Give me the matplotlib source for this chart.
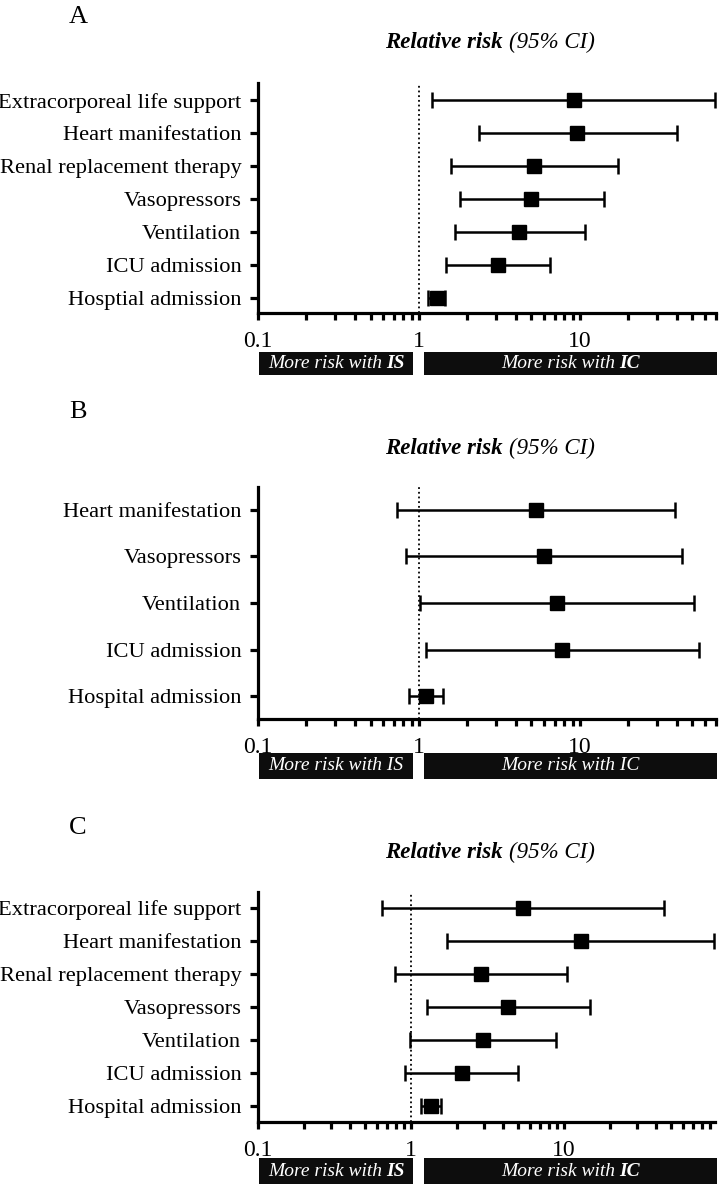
import numpy as np
import matplotlib
matplotlib.use('Agg')
import matplotlib.pyplot as plt
from matplotlib.patches import Rectangle
from matplotlib.ticker import FixedLocator, LogLocator, NullFormatter, FixedFormatter

W, H = 719, 1184
SERIF = ['Liberation Serif', 'DejaVu Serif']

# Panel A
labels_a = ['Extracorporeal life support', 'Heart manifestation', 'Renal replacement therapy',
            'Vasopressors', 'Ventilation', 'ICU admission', 'Hosptial admission']
rr_a = [9.2, 9.6, 5.2, 5.0, 4.2, 3.1, 1.29]
lo_a = [1.21, 2.35, 1.59, 1.80, 1.68, 1.48, 1.13]
hi_a = [69, 39.9, 17.2, 14.1, 10.7, 6.5, 1.46]

# Panel B
labels_b = ['Heart manifestation', 'Vasopressors', 'Ventilation', 'ICU admission', 'Hospital admission']
rr_b = [5.36, 5.96, 7.16, 7.79, 1.10]
lo_b = [0.735, 0.826, 1.01, 1.10, 0.866]
hi_b = [39.1, 43.2, 50.9, 54.7, 1.42]

# Panel C
labels_c = ['Extracorporeal life support', 'Heart manifestation', 'Renal replacement therapy',
            'Vasopressors', 'Ventilation', 'ICU admission', 'Hospital admission']
rr_c = [5.39, 12.9, 2.86, 4.29, 2.96, 2.15, 1.35]
lo_c = [0.647, 1.73, 0.791, 1.27, 0.98, 0.914, 1.16]
hi_c = [45.2, 96, 10.5, 14.8, 8.92, 5.03, 1.58]

x_ticks = [0.1, 1, 10]
x_ticklabels = ['0.1', '1', '10']

plt.rcParams['font.family'] = SERIF

fig = plt.figure(figsize=(W / 100, H / 100), dpi=100)
renderer = fig.canvas.get_renderer()


def fx(px):
    return px / W


def fy(py):
    return 1 - py / H


def forest(box, labels, rr, lo, hi, xmax, ylim):
    l, r, t, b = box
    ax = fig.add_axes([fx(l), fy(b), fx(r - l), (b - t) / H])
    n = len(labels)
    y = np.arange(n)[::-1]
    rr = np.array(rr)
    err = [rr - np.array(lo), np.array(hi) - rr]
    ax.errorbar(rr, y, xerr=err, fmt='s', ms=10, color='black', ecolor='black',
                elinewidth=1.8, capsize=6, capthick=1.8, clip_on=False, zorder=3)
    ax.axvline(1, color='black', lw=1.3, ls=(0, (1, 1.6)), zorder=1)
    ax.set_xscale('log')
    ax.set_xlim(0.1, xmax)
    ax.set_ylim(*ylim)
    ax.xaxis.set_major_locator(FixedLocator(x_ticks))
    ax.xaxis.set_major_formatter(FixedFormatter(x_ticklabels))
    ax.xaxis.set_minor_locator(LogLocator(base=10, subs=np.arange(2, 10)))
    ax.xaxis.set_minor_formatter(NullFormatter())
    ax.set_yticks(y)
    ax.set_yticklabels(labels)
    for s in ['top', 'right']:
        ax.spines[s].set_visible(False)
    for s in ['left', 'bottom']:
        ax.spines[s].set_linewidth(2.3)
    ax.tick_params(axis='y', which='major', length=6, width=2.3, pad=6, labelsize=16.2)
    ax.tick_params(axis='x', which='both', length=5, width=2.3, pad=8, labelsize=17)
    return ax


def pair_text(x0, y0, a, b, gap, size, color, style_a, style_b, center=None):
    t1 = fig.text(0, 0, a, fontsize=size, color=color, va='center', ha='left', **style_a)
    t2 = fig.text(0, 0, b, fontsize=size, color=color, va='center', ha='left', **style_b)
    w1 = t1.get_window_extent(renderer).width
    w2 = t2.get_window_extent(renderer).width
    if center is not None:
        x0 = center - (w1 + gap + w2) / 2
    t1.set_position((fx(x0), fy(y0)))
    t2.set_position((fx(x0 + w1 + gap), fy(y0)))


def title(y0):
    pair_text(0, y0, 'Relative risk', '(95% CI)', 6, 16.5,
              'black', dict(fontweight='bold', fontstyle='italic'), dict(fontstyle='italic'),
              center=490)


def boxes(top, bottom, bold):
    for x0, x1, grp in [(259, 413, 'IS'), (424, 717, 'IC')]:
        fig.patches.append(Rectangle((fx(x0), fy(bottom)), fx(x1 - x0), (bottom - top) / H,
                                     transform=fig.transFigure, facecolor='#0d0d0d',
                                     edgecolor='none'))
        cy = (top + bottom) / 2
        if bold:
            pair_text(0, cy, 'More risk with', grp, 4, 14, 'white',
                      dict(fontstyle='italic'), dict(fontstyle='italic', fontweight='bold'),
                      center=(x0 + x1) / 2)
        else:
            fig.text(fx((x0 + x1) / 2), fy(cy), 'More risk with ' + grp, fontsize=14,
                     color='white', fontstyle='italic', ha='center', va='center')


# A
fig.text(fx(78), fy(17), 'A', fontsize=19, ha='center', va='center')
title(42)
forest((258, 716, 83, 313), labels_a, rr_a, lo_a, hi_a, 70, (-0.45, 6.52))
boxes(352, 375, True)

# B
fig.text(fx(78), fy(412), 'B', fontsize=19, ha='center', va='center')
title(448)
forest((258, 716, 487, 719), labels_b, rr_b, lo_b, hi_b, 70, (-0.49, 4.49))
boxes(753, 779, False)

# C
fig.text(fx(78), fy(828), 'C', fontsize=19, ha='center', va='center')
title(852)
forest((258, 715, 892, 1122), labels_c, rr_c, lo_c, hi_c, 97, (-0.48, 6.48))
boxes(1158, 1184, True)

fig.savefig('out.png', dpi=100, facecolor='white')
